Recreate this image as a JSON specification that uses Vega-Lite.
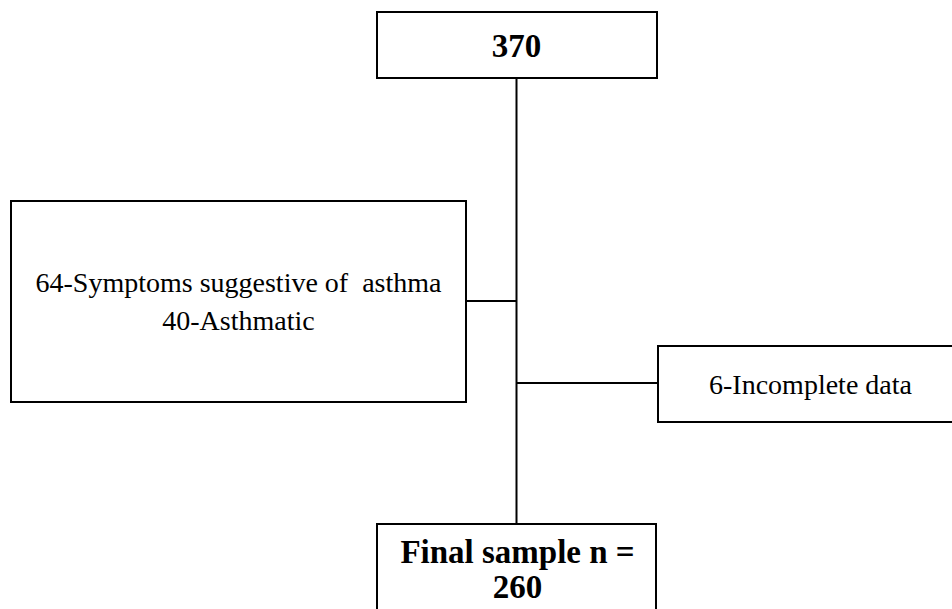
{
  "$schema": "https://vega.github.io/schema/vega-lite/v6.json",
  "width": 952,
  "height": 609,
  "autosize": {"type": "fit", "contains": "padding"},
  "padding": 0,
  "background": "white",
  "config": {"view": {"stroke": null}},
  "datasets": {
    "boxes": [
      {"node": "Total", "x0": 377, "x1": 657, "y0": 12, "y1": 78},
      {"node": "Excluded asthma", "x0": 11, "x1": 466, "y0": 201, "y1": 402},
      {"node": "Excluded incomplete", "x0": 658, "x1": 960, "y0": 346, "y1": 422},
      {"node": "Final", "x0": 377, "x1": 656, "y0": 524, "y1": 620}
    ],
    "links": [
      {"x0": 516.5, "x1": 516.5, "y0": 78, "y1": 524},
      {"x0": 466, "x1": 516.5, "y0": 301, "y1": 301},
      {"x0": 516.5, "x1": 658, "y0": 383, "y1": 383}
    ],
    "labels": [
      {"kind": "main", "label": "370", "x": 516.5, "y": 57},
      {"kind": "note", "label": "64-Symptoms suggestive of \u00a0asthma", "x": 238.5, "y": 292},
      {"kind": "note", "label": "40-Asthmatic", "x": 238.5, "y": 330},
      {"kind": "note", "label": "6-Incomplete data", "x": 810.5, "y": 394},
      {"kind": "main", "label": "Final sample n =", "x": 517.5, "y": 563},
      {"kind": "main", "label": "260", "x": 517.5, "y": 598}
    ]
  },
  "layer": [
    {
      "data": {"name": "links"},
      "mark": {"type": "rule", "color": "black", "strokeWidth": 2, "clip": true},
      "encoding": {
        "x": {"field": "x0", "type": "quantitative", "scale": {"domain": [0, 952], "nice": false, "zero": false}, "axis": null},
        "x2": {"field": "x1"},
        "y": {"field": "y0", "type": "quantitative", "scale": {"domain": [0, 609], "nice": false, "zero": false, "reverse": true}, "axis": null},
        "y2": {"field": "y1"}
      }
    },
    {
      "data": {"name": "boxes"},
      "mark": {"type": "rect", "fill": "white", "stroke": "black", "strokeWidth": 2, "clip": true},
      "encoding": {
        "x": {"field": "x0", "type": "quantitative", "axis": null},
        "x2": {"field": "x1"},
        "y": {"field": "y0", "type": "quantitative", "axis": null},
        "y2": {"field": "y1"}
      }
    },
    {
      "data": {"name": "labels"},
      "transform": [{"filter": "datum.kind === 'note'"}],
      "mark": {"type": "text", "font": "Liberation Serif", "fontSize": 28, "align": "center", "baseline": "alphabetic", "color": "black"},
      "encoding": {
        "x": {"field": "x", "type": "quantitative", "axis": null},
        "y": {"field": "y", "type": "quantitative", "axis": null},
        "text": {"field": "label"}
      }
    },
    {
      "data": {"name": "labels"},
      "transform": [{"filter": "datum.kind === 'main'"}],
      "mark": {"type": "text", "font": "Liberation Serif", "fontSize": 33, "fontWeight": "bold", "align": "center", "baseline": "alphabetic", "color": "black"},
      "encoding": {
        "x": {"field": "x", "type": "quantitative", "axis": null},
        "y": {"field": "y", "type": "quantitative", "axis": null},
        "text": {"field": "label"}
      }
    }
  ]
}
